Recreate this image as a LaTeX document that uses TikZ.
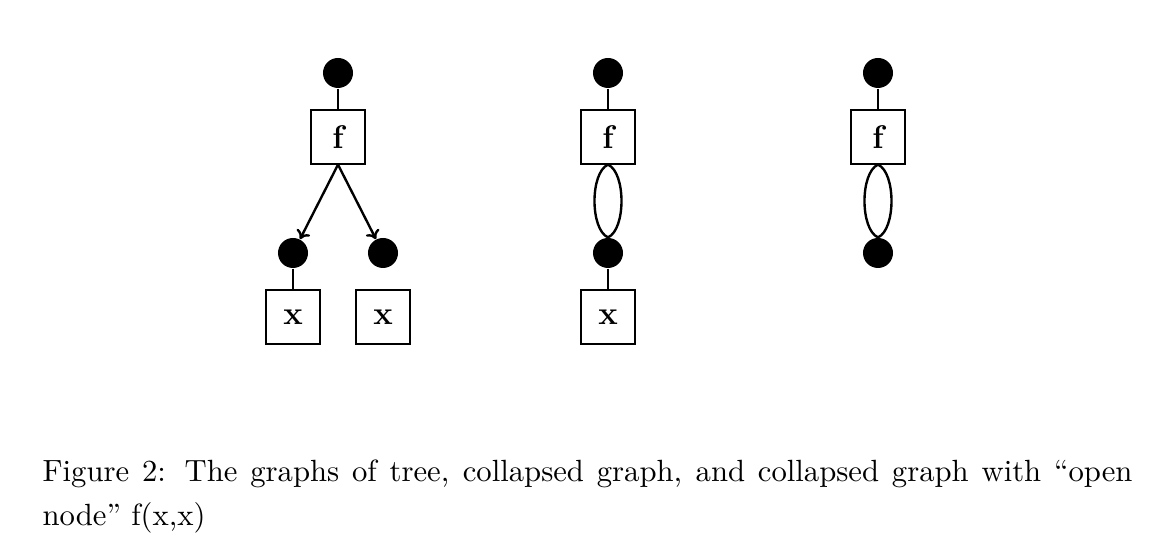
\documentclass[tikz,border=0pt]{standalone}
\usetikzlibrary{arrows.meta}
\begin{document}
\begin{tikzpicture}[x=0.3356pt,y=-0.3356pt,
  dot/.style={circle,fill=black,minimum size=10.07pt,inner sep=0pt},
  fbox/.style={draw,line width=0.45pt,minimum size=18.1pt,inner sep=0pt,
               font=\fontsize{11pt}{13pt}\selectfont\bfseries},
  conn/.style={line width=0.8pt},
  arr/.style={line width=0.8pt,-{To[length=2.8pt,width=5pt]}}]
\useasboundingbox (0,0) rectangle (1172,560);
% tree
\node[dot] (t1) at (338,73) {};
\node[fbox] (tf) at (338,137) {f};
\node[dot] (t2) at (293,253) {};
\node[dot] (t3) at (383,253) {};
\node[fbox] (tx1) at (293,317) {x};
\node[fbox] (tx2) at (383,317) {x};
\draw[conn] (t1) -- (tf);
\draw[arr] (tf.south) -- (t2);
\draw[arr] (tf.south) -- (t3);
\draw[conn] (t2) -- (tx1);
% collapsed graph
\node[dot] (m1) at (608,73) {};
\node[fbox] (mf) at (608,137) {f};
\node[dot] (m2) at (608,253) {};
\node[fbox] (mx) at (608,317) {x};
\draw[conn] (m1) -- (mf);
\draw[conn] (mf.south) .. controls +(-18,8) and +(-18,-8) .. (m2.north);
\draw[conn] (mf.south) .. controls +(18,8) and +(18,-8) .. (m2.north);
\draw[conn] (m2) -- (mx);
% open node
\node[dot] (o1) at (878,73) {};
\node[fbox] (of) at (878,137) {f};
\node[dot] (o2) at (878,253) {};
\draw[conn] (o1) -- (of);
\draw[conn] (of.south) .. controls +(-18,8) and +(-18,-8) .. (o2.north);
\draw[conn] (of.south) .. controls +(18,8) and +(18,-8) .. (o2.north);
% caption
\node[anchor=north west,inner sep=0pt,text width=365.8pt,align=justify,
      font=\fontsize{10.3pt}{14.76pt}\selectfont] (cap) at (42,459)
 {Figure 2: The graphs of tree, collapsed graph, and collapsed graph with ``open\linebreak node'' f(x,x)};
\end{tikzpicture}
\end{document}
